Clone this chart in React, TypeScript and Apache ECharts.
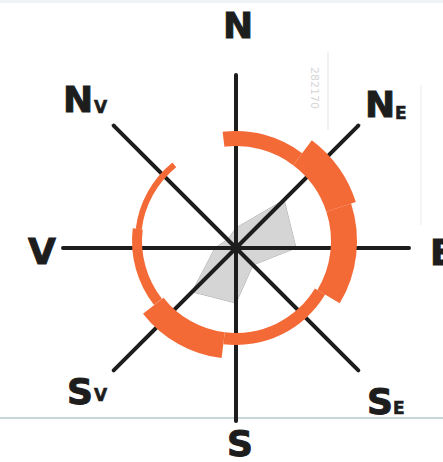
import React, { useEffect, useRef } from "react";
import * as echarts from "echarts";

// ---- data ----
const directions = ["N", "NE", "E", "SE", "S", "SV", "V", "NV"];
const bearings = [0, 45, 90, 135, 180, 225, 270, 315];
const spokeLength = 173;
const shadeValues = [20, 68, 60, 24, 55, 62, 21, 12];
const ringStart = [-7, 37, 72, 121, 187, 232, 277];
const ringEnd = [37, 72, 121, 187, 232, 277, 321];
const ringInner = [95, 95, 95, 92, 92, 94, 95];
const ringOuter = [110, 126, 121, 104, 118, 104, 101];
const labelMain = ["N", "N", "E", "S", "S", "S", "V", "N"];
const labelSub = ["", "E", "", "E", "", "V", "", "V"];

// ---- layout (positions of labels: left x, cap-centre y) ----
const labelLayout = [
  { x: 223, y: 25.5, sx: 0, sy: 0 },
  { x: 365, y: 104.5, sx: 395, sy: 113 },
  { x: 430, y: 252.5, sx: 0, sy: 0 },
  { x: 367, y: 401.5, sx: 393, sy: 407.5 },
  { x: 227, y: 443, sx: 0, sy: 0 },
  { x: 67, y: 391, sx: 94, sy: 395 },
  { x: 28, y: 251.5, sx: 0, sy: 0 },
  { x: 63, y: 99, sx: 94, sy: 106.5 },
];

const INK = "#1d1d1d";
const ORANGE = "#f46a36";

export default function App() {
  const ref = useRef<HTMLDivElement>(null);
  useEffect(() => {
    document.body.style.margin = "0";
    const chart = echarts.init(ref.current!, null, { renderer: "svg" });

    // radar indicators run counter-clockwise; reorder compass data accordingly
    const ccwOrder = [0, 7, 6, 5, 4, 3, 2, 1];

    const labelElements: any[] = [];
    directions.forEach((d, i) => {
      const L = labelLayout[i];
      labelElements.push({
        type: "text",
        z: 10,
        style: {
          text: labelMain[i],
          x: L.x,
          y: L.y,
          fill: INK,
          stroke: INK,
          lineWidth: 1,
          font: 'bold 36px "DejaVu Sans"',
          align: "left",
          verticalAlign: "middle",
          textAlign: "left",
          textVerticalAlign: "middle",
        },
      });
      if (labelSub[i]) {
        labelElements.push({
          type: "text",
          z: 10,
          style: {
            text: labelSub[i],
            x: L.sx,
            y: L.sy,
            fill: INK,
            stroke: INK,
            lineWidth: 0.6,
            font: 'bold 17px "DejaVu Sans"',
            align: "left",
            verticalAlign: "middle",
            textAlign: "left",
            textVerticalAlign: "middle",
          },
        });
      }
    });

    const option: any = {
      animation: false,
      backgroundColor: "#ffffff",
      polar: [
        { center: [236, 248], radius: 173 },
        { center: [236, 241], radius: 130 },
      ],
      angleAxis: [
        { polarIndex: 0, type: "value", min: 0, max: 360, startAngle: 90, clockwise: true, show: false },
        { polarIndex: 1, type: "value", min: 0, max: 360, startAngle: 90, clockwise: true, show: false },
      ],
      radiusAxis: [
        { polarIndex: 0, type: "value", min: 0, max: 173, show: false },
        { polarIndex: 1, type: "value", min: 0, max: 130, show: false },
      ],
      radar: {
        center: [236, 248],
        radius: 173,
        startAngle: 90,
        indicator: ccwOrder.map((k) => ({ name: directions[k], max: 173, min: 0 })),
        axisName: { show: false },
        axisLine: { show: false },
        axisTick: { show: false },
        axisLabel: { show: false },
        splitLine: { show: false },
        splitArea: { show: false },
      },
      graphic: [
        {
          type: "line",
          z: 0,
          shape: { x1: 0, y1: 418, x2: 443, y2: 418 },
          style: { stroke: "#c9d6d9", lineWidth: 2 },
        },
        {
          type: "line",
          z: 0,
          shape: { x1: 0, y1: 1.5, x2: 443, y2: 1.5 },
          style: { stroke: "#eef4f6", lineWidth: 3 },
        },
        {
          type: "line",
          z: 0,
          shape: { x1: 328, y1: 52, x2: 328, y2: 130 },
          style: { stroke: "#ececec", lineWidth: 1.5 },
        },
        {
          type: "line",
          z: 0,
          shape: { x1: 421, y1: 85, x2: 421, y2: 225 },
          style: { stroke: "#f0f0f0", lineWidth: 1.5 },
        },
        {
          type: "text",
          z: 0,
          x: 314,
          y: 88,
          rotation: -Math.PI / 2,
          style: {
            text: "282170",
            x: 0,
            y: 0,
            fill: "#d6d6d6",
            font: '11px "DejaVu Sans"',
            align: "center",
            verticalAlign: "middle",
            textAlign: "center",
            textVerticalAlign: "middle",
          },
        },
        ...labelElements,
      ],
      series: [
        {
          type: "radar",
          z: 1,
          symbol: "none",
          lineStyle: { color: "#a9a9a9", width: 1 },
          areaStyle: { color: "#d5d5d5", opacity: 1 },
          data: [{ value: ccwOrder.map((k) => shadeValues[k]), name: "shade" }],
        },
        {
          type: "custom",
          coordinateSystem: "polar",
          polarIndex: 0,
          z: 3,
          data: bearings.map((b) => [spokeLength, b]),
          renderItem: (params: any, api: any) => {
            const cs = params.coordSys;
            const end = api.coord([api.value(0), api.value(1)]);
            return {
              type: "line",
              shape: { x1: cs.cx, y1: cs.cy, x2: end[0], y2: end[1] },
              style: { stroke: INK, lineWidth: 4, lineCap: "round" },
            };
          },
        },
        {
          type: "custom",
          coordinateSystem: "polar",
          polarIndex: 1,
          z: 4,
          encode: { radius: 3, angle: 0 },
          data: ringStart.map((s, i) => [s, ringEnd[i], ringInner[i], ringOuter[i]]),
          renderItem: (params: any, api: any) => {
            const cs = params.coordSys;
            const cx = cs.cx;
            const cy = cs.cy;
            const s = api.value(0);
            const e = api.value(1);
            const ri = api.value(2);
            const ro = api.value(3);
            const a = api.coord([ro, s]);
            const b = api.coord([ro, e]);
            const c = api.coord([ri, s]);
            const r = Math.hypot(a[0] - cx, a[1] - cy);
            const r0 = Math.hypot(c[0] - cx, c[1] - cy);
            const sa = Math.atan2(a[1] - cy, a[0] - cx);
            let ea = Math.atan2(b[1] - cy, b[0] - cx);
            while (ea <= sa) ea += 2 * Math.PI;
            return {
              type: "sector",
              shape: { cx, cy, r0, r, startAngle: sa, endAngle: ea, clockwise: true },
              style: { fill: ORANGE },
            };
          },
        },
      ],
    };
    chart.setOption(option);
    return () => chart.dispose();
  }, []);
  return <div ref={ref} style={{ width: 443, height: 462 }} />;
}
